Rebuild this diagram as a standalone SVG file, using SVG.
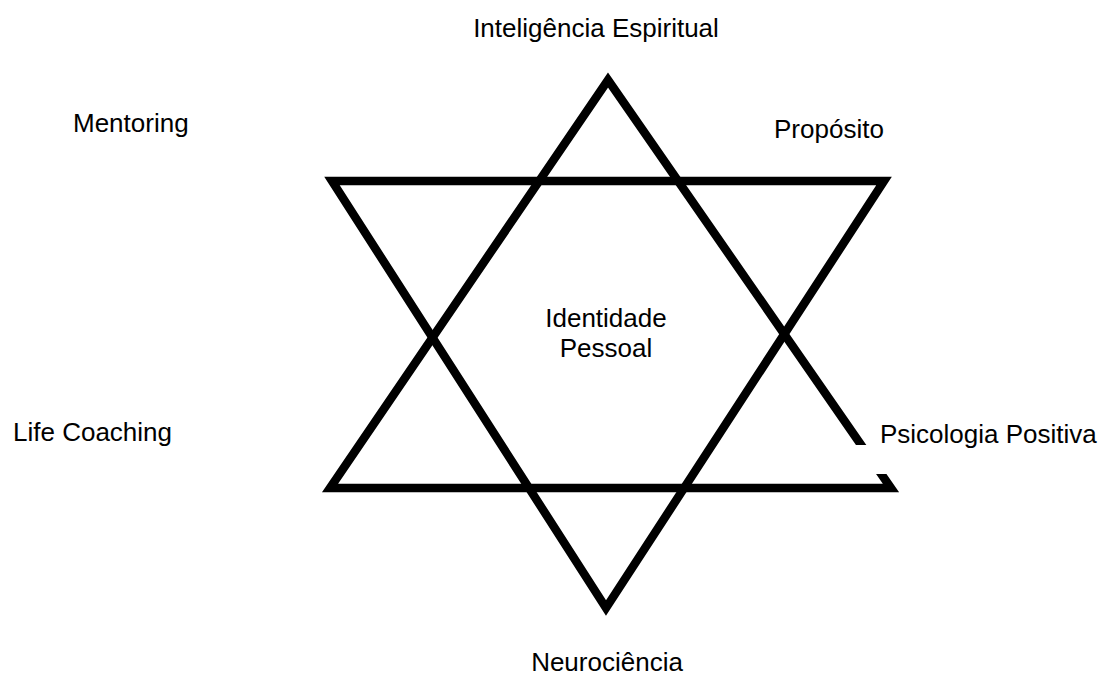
<svg xmlns="http://www.w3.org/2000/svg" width="1104" height="676" viewBox="0 0 1104 676">
<style>
.tri{fill:none;stroke:#000;stroke-width:8.5;stroke-linejoin:miter;stroke-miterlimit:10}
.lbl{font-family:"Liberation Sans",Arial,sans-serif;font-size:26px;fill:#000}
</style>
<rect width="1104" height="676" fill="#fff"/>
<g id="connectors">
<polygon id="up" class="tri" points="608,80 891,488 330,488"/>
<polygon id="down" class="tri" points="332,181 884,181 606,608"/>
</g>
<g id="n-inteligencia"><text class="lbl" x="596" y="37" text-anchor="middle">Inteligência Espiritual</text></g>
<g id="n-mentoring"><text class="lbl" x="73" y="132">Mentoring</text></g>
<g id="n-proposito"><text class="lbl" x="774" y="138">Propósito</text></g>
<g id="n-identidade"><text class="lbl" x="606" y="327" text-anchor="middle">Identidade</text><text class="lbl" x="606" y="357" text-anchor="middle">Pessoal</text></g>
<g id="n-lifecoaching"><text class="lbl" x="13" y="441">Life Coaching</text></g>
<g id="n-psicologia"><rect x="848" y="445" width="256" height="29" fill="#fff"/><text class="lbl" x="880" y="443">Psicologia Positiva</text></g>
<g id="n-neurociencia"><text class="lbl" x="607" y="671" text-anchor="middle">Neurociência</text></g>
</svg>
